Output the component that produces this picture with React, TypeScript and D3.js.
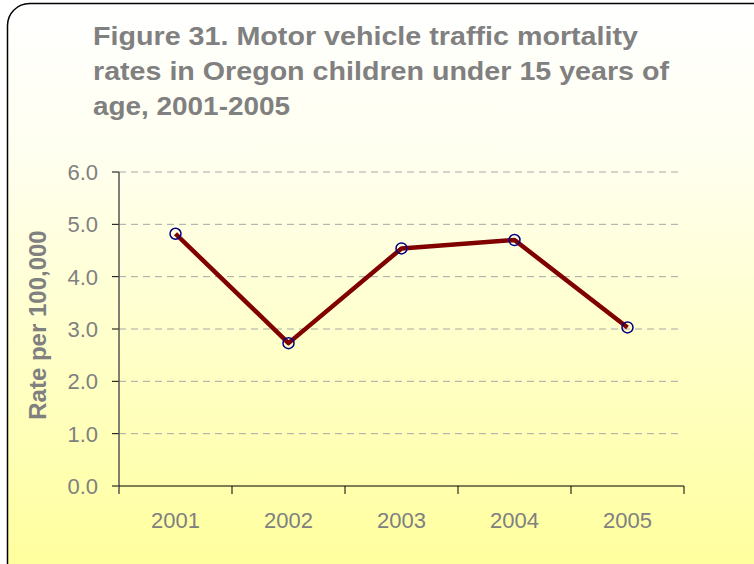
import React from "react";
import * as d3 from "d3";

const years = ["2001", "2002", "2003", "2004", "2005"];
const rates = [4.82, 2.73, 4.54, 4.7, 3.03];
const yTicks = [0, 1, 2, 3, 4, 5, 6];
const titleLines = [
  "Figure 31. Motor vehicle traffic mortality",
  "rates in Oregon children under 15 years of",
  "age, 2001-2005",
];
const titleWidths = [545, 576, 197];

export default function App() {
  const W = 754, H = 564;
  const left = 119, right = 684, top = 172, bottom = 486;
  const x = d3.scaleBand<string>().domain(years).range([left, right]).padding(0);
  const y = d3.scaleLinear().domain([0, 6]).range([bottom, top]);
  const line = d3
    .line<number>()
    .x((_, i) => (x(years[i]) as number) + x.bandwidth() / 2)
    .y((d) => y(d));
  const font = "Arial, 'Liberation Sans', sans-serif";
  const grey = "#808080";
  return (
    <svg width={W} height={H} style={{ position: "absolute", left: 0, top: 0 }} fontFamily={font}>
      <defs>
        <linearGradient id="bg" x1="0" y1="0" x2="0" y2="1">
          <stop offset="0" stopColor="#FFFFFF" />
          <stop offset="0.25" stopColor="#FFFFF0" />
          <stop offset="1" stopColor="#FFFF96" />
        </linearGradient>
      </defs>
      <rect x={0} y={0} width={W} height={H} fill="#FFFFFF" />
      <rect x={7.5} y={3.5} width={780} height={600} rx={22} ry={22} fill="url(#bg)" stroke="#000" strokeWidth={1.5} />
      {titleLines.map((t, i) => (
        <text key={i} x={93} y={45 + i * 35} fontSize={26} fontWeight="bold" fill={grey} textLength={titleWidths[i]} lengthAdjust="spacingAndGlyphs">
          {t}
        </text>
      ))}
      {yTicks.filter((t) => t > 0).map((t) => (
        <line key={"g" + t} x1={left} x2={right - 3} y1={y(t)} y2={y(t)} stroke="#A8A8A8" strokeWidth={1} strokeDasharray="7,5" />
      ))}
      {yTicks.map((t) => (
        <g key={"t" + t}>
          <line x1={left - 7} x2={left} y1={y(t)} y2={y(t)} stroke="#000" strokeWidth={1} />
          <text x={98} y={y(t) + 8} fontSize={22} fill={grey} textAnchor="end">
            {t.toFixed(1)}
          </text>
        </g>
      ))}
      <line x1={left} x2={left} y1={top} y2={bottom + 8} stroke="#555" strokeWidth={1.5} />
      <line x1={left} x2={right} y1={bottom} y2={bottom} stroke="#000" strokeWidth={1.2} />
      {years.map((yr, i) => (
        <line key={"xt" + i} x1={(x(yr) as number) + x.bandwidth()} x2={(x(yr) as number) + x.bandwidth()} y1={bottom} y2={bottom + 8} stroke="#000" strokeWidth={1} />
      ))}
      {years.map((yr) => (
        <text key={"xl" + yr} x={(x(yr) as number) + x.bandwidth() / 2} y={528} fontSize={22} fill={grey} textAnchor="middle">
          {yr}
        </text>
      ))}
      <text transform={`translate(46,325) rotate(-90)`} fontSize={24} fontWeight="bold" fill={grey} textAnchor="middle">
        Rate per 100,000
      </text>
      <path d={line(rates) || ""} fill="none" stroke="#800000" strokeWidth={4.5} strokeLinejoin="round" />
      {rates.map((r, i) => (
        <circle key={"c" + i} cx={(x(years[i]) as number) + x.bandwidth() / 2} cy={y(r)} r={5.5} fill="none" stroke="#000080" strokeWidth={1.5} />
      ))}
    </svg>
  );
}
